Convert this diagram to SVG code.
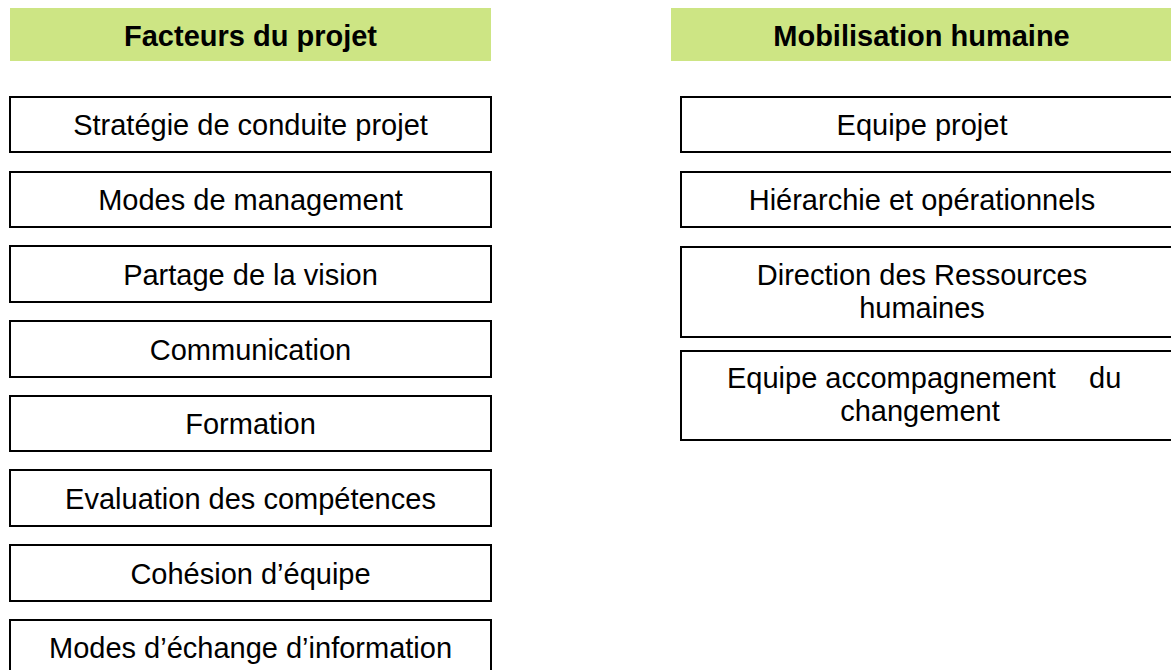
<svg xmlns="http://www.w3.org/2000/svg" width="1171" height="670" viewBox="0 0 1171 670">
<style>
.hdr{fill:#cde584;stroke:none}
.box{fill:#ffffff;stroke:#000000;stroke-width:2}
.ht{font-family:"Liberation Sans",Arial,sans-serif;font-size:29px;font-weight:bold;fill:#000;text-anchor:middle}
.t{font-family:"Liberation Sans",Arial,sans-serif;font-size:29px;fill:#000;text-anchor:middle}
</style>
<rect width="1171" height="670" fill="#ffffff"/>
<g id="header-left">
<rect class="hdr" x="10" y="8" width="481" height="53"/>
<text class="ht" x="250.5" y="45.5">Facteurs du projet</text>
</g>
<g id="header-right">
<rect class="hdr" x="671" y="8" width="505" height="53"/>
<text class="ht" x="921.5" y="45.5">Mobilisation humaine</text>
</g>
<g id="strategie">
<rect class="box" x="10" y="97" width="481" height="55"/>
<text class="t" x="250.5" y="135">Stratégie de conduite projet</text>
</g>
<g id="modes-management">
<rect class="box" x="10" y="172" width="481" height="55"/>
<text class="t" x="250.5" y="210">Modes de management</text>
</g>
<g id="partage-vision">
<rect class="box" x="10" y="246" width="481" height="56"/>
<text class="t" x="250.5" y="284.5">Partage de la vision</text>
</g>
<g id="communication">
<rect class="box" x="10" y="321" width="481" height="56"/>
<text class="t" x="250.5" y="359.5">Communication</text>
</g>
<g id="formation">
<rect class="box" x="10" y="396" width="481" height="55"/>
<text class="t" x="250.5" y="434">Formation</text>
</g>
<g id="evaluation">
<rect class="box" x="10" y="470" width="481" height="56"/>
<text class="t" x="250.5" y="508.5">Evaluation des compétences</text>
</g>
<g id="cohesion">
<rect class="box" x="10" y="545" width="481" height="56"/>
<text class="t" x="250.5" y="583.5">Cohésion d’équipe</text>
</g>
<g id="modes-echange">
<rect class="box" x="10" y="620" width="481" height="55"/>
<text class="t" x="250.5" y="658">Modes d’échange d’information</text>
</g>
<g id="equipe-projet">
<rect class="box" x="681" y="97" width="500" height="55"/>
<text class="t" x="922" y="135">Equipe projet</text>
</g>
<g id="hierarchie">
<rect class="box" x="681" y="172" width="500" height="55"/>
<text class="t" x="922" y="210">Hiérarchie et opérationnels</text>
</g>
<g id="drh">
<rect class="box" x="681" y="247" width="500" height="90"/>
<text class="t" x="922" y="285">Direction des Ressources</text>
<text class="t" x="922" y="318">humaines</text>
</g>
<g id="equipe-accompagnement">
<rect class="box" x="681" y="351" width="500" height="89"/>
<text class="t" style="text-anchor:start" x="727" y="388">Equipe accompagnement<tspan x="1089">du</tspan></text>
<text class="t" x="920" y="421">changement</text>
</g>
<g id="connectors"></g>
</svg>
